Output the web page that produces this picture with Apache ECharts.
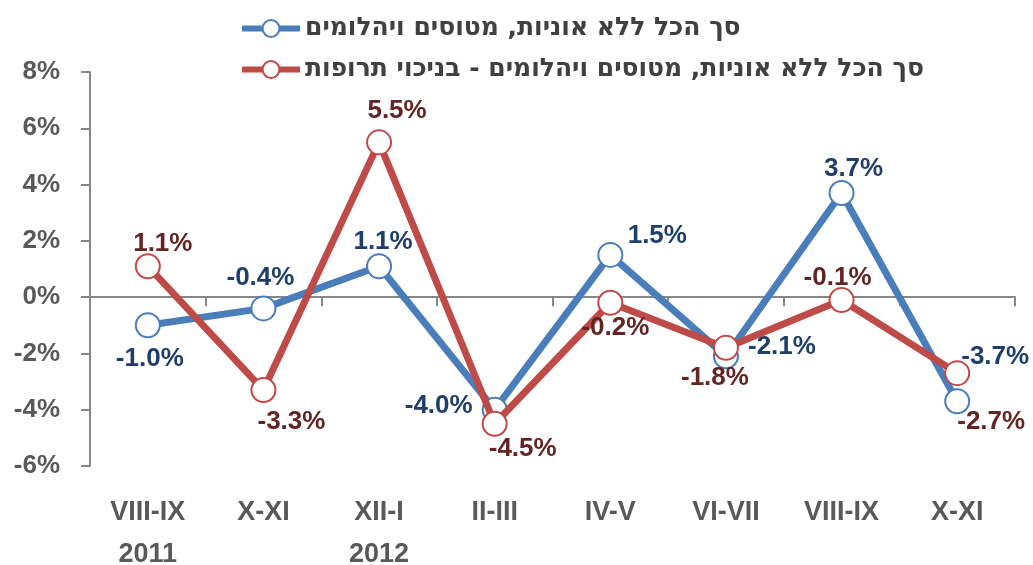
<!DOCTYPE html>
<html>
<head>
<meta charset="utf-8">
<script src="https://cdn.jsdelivr.net/npm/echarts@6/dist/echarts.min.js"></script>
<style>
html,body{margin:0;padding:0;background:#fff;}
#chart{width:1033px;height:565px;}
</style>
</head>
<body>
<div id="chart"></div>
<script>
// ---- data ----
const categories = ['VIII-IX\n2011', 'X-XI', 'XII-I\n2012', 'II-III', 'IV-V', 'VI-VII', 'VIII-IX', 'X-XI'];
const seriesNames = ['סך הכל ללא אוניות, מטוסים ויהלומים', 'סך הכל ללא אוניות, מטוסים ויהלומים - בניכוי תרופות'];
const totalExShips = [-1.0, -0.4, 1.1, -4.0, 1.5, -2.1, 3.7, -3.7];
const totalExPharma = [1.1, -3.3, 5.5, -4.5, -0.2, -1.8, -0.1, -2.7];
const yTicks = { min: -6, max: 8, interval: 2 };

// ---- label placement (style, kept separate from data) ----
const blueLabelOffsets = [[2,34],[-3,-31],[4,-24],[-56,-4],[47,-19],[56,-9],[12,-24],[38,-44]];
const redLabelOffsets  = [[15,-22],[28,32],[18,-32],[28,25],[5,25],[-11,30],[-4,-22],[34,49]];

const FONT = "'Liberation Sans', Arial, 'DejaVu Sans', sans-serif";
const LEGEND_FONT = "'DejaVu Sans', 'Liberation Sans', sans-serif";
const BLUE = '#4A7EBB', RED = '#BE4B48';
const BLUE_TXT = '#1F3E6B', RED_TXT = '#632523';
const AXIS = '#878787';

function buildData(vals, offsets) {
  return vals.map((v, i) => ({
    value: v,
    label: { position: 'inside', offset: offsets[i] }
  }));
}

const chart = echarts.init(document.getElementById('chart'), null, { renderer: 'canvas' });
chart.setOption({
  animation: false,
  backgroundColor: '#fff',
  legend: {
    orient: 'vertical',
    left: 234,
    top: 11,
    itemWidth: 58,
    itemHeight: 21,
    itemGap: 16,
    lineStyle: { width: 6 },
    textStyle: { fontFamily: LEGEND_FONT, fontWeight: 'bold', fontSize: 25, color: '#404040' },
    data: seriesNames
  },
  grid: { left: 90, right: 18, top: 72, bottom: 99, containLabel: false, outerBoundsMode: 'none' },
  xAxis: [
    {
      type: 'category',
      data: categories,
      position: 'bottom',
      axisLine: { show: false, onZero: false },
      axisTick: { show: false },
      axisLabel: {
        fontFamily: FONT, fontWeight: 'bold', fontSize: 27, color: '#595959',
        lineHeight: 42, margin: 26, interval: 0
      }
    },
    {
      type: 'category',
      data: categories,
      position: 'bottom',
      axisLine: { show: true, onZero: true, lineStyle: { color: AXIS, width: 2 } },
      axisTick: { show: true, length: 9, lineStyle: { color: AXIS, width: 2 } },
      axisLabel: { show: false }
    }
  ],
  yAxis: {
    type: 'value',
    min: yTicks.min, max: yTicks.max, interval: yTicks.interval,
    axisLine: { show: true, lineStyle: { color: AXIS, width: 2 } },
    axisTick: { show: true, length: 9, lineStyle: { color: AXIS, width: 2 } },
    splitLine: { show: false },
    axisLabel: {
      formatter: '{value}%', margin: 30,
      fontFamily: FONT, fontWeight: 'bold', fontSize: 26, color: '#595959'
    }
  },
  series: [
    {
      name: seriesNames[0],
      type: 'line',
      xAxisIndex: 0,
      data: buildData(totalExShips, blueLabelOffsets),
      symbol: 'circle', symbolSize: 24,
      lineStyle: { color: BLUE, width: 7 },
      itemStyle: { color: '#fff', borderColor: BLUE, borderWidth: 2 },
      label: {
        show: true,
        formatter: p => p.value.toFixed(1) + '%',
        fontFamily: FONT, fontWeight: 'bold', fontSize: 26, color: BLUE_TXT
      },
      z: 2
    },
    {
      name: seriesNames[1],
      type: 'line',
      xAxisIndex: 0,
      data: buildData(totalExPharma, redLabelOffsets),
      symbol: 'circle', symbolSize: 24,
      lineStyle: { color: RED, width: 7 },
      itemStyle: { color: '#fff', borderColor: RED, borderWidth: 2 },
      label: {
        show: true,
        formatter: p => p.value.toFixed(1) + '%',
        fontFamily: FONT, fontWeight: 'bold', fontSize: 26, color: RED_TXT
      },
      z: 3
    }
  ]
});
</script>
</body>
</html>
